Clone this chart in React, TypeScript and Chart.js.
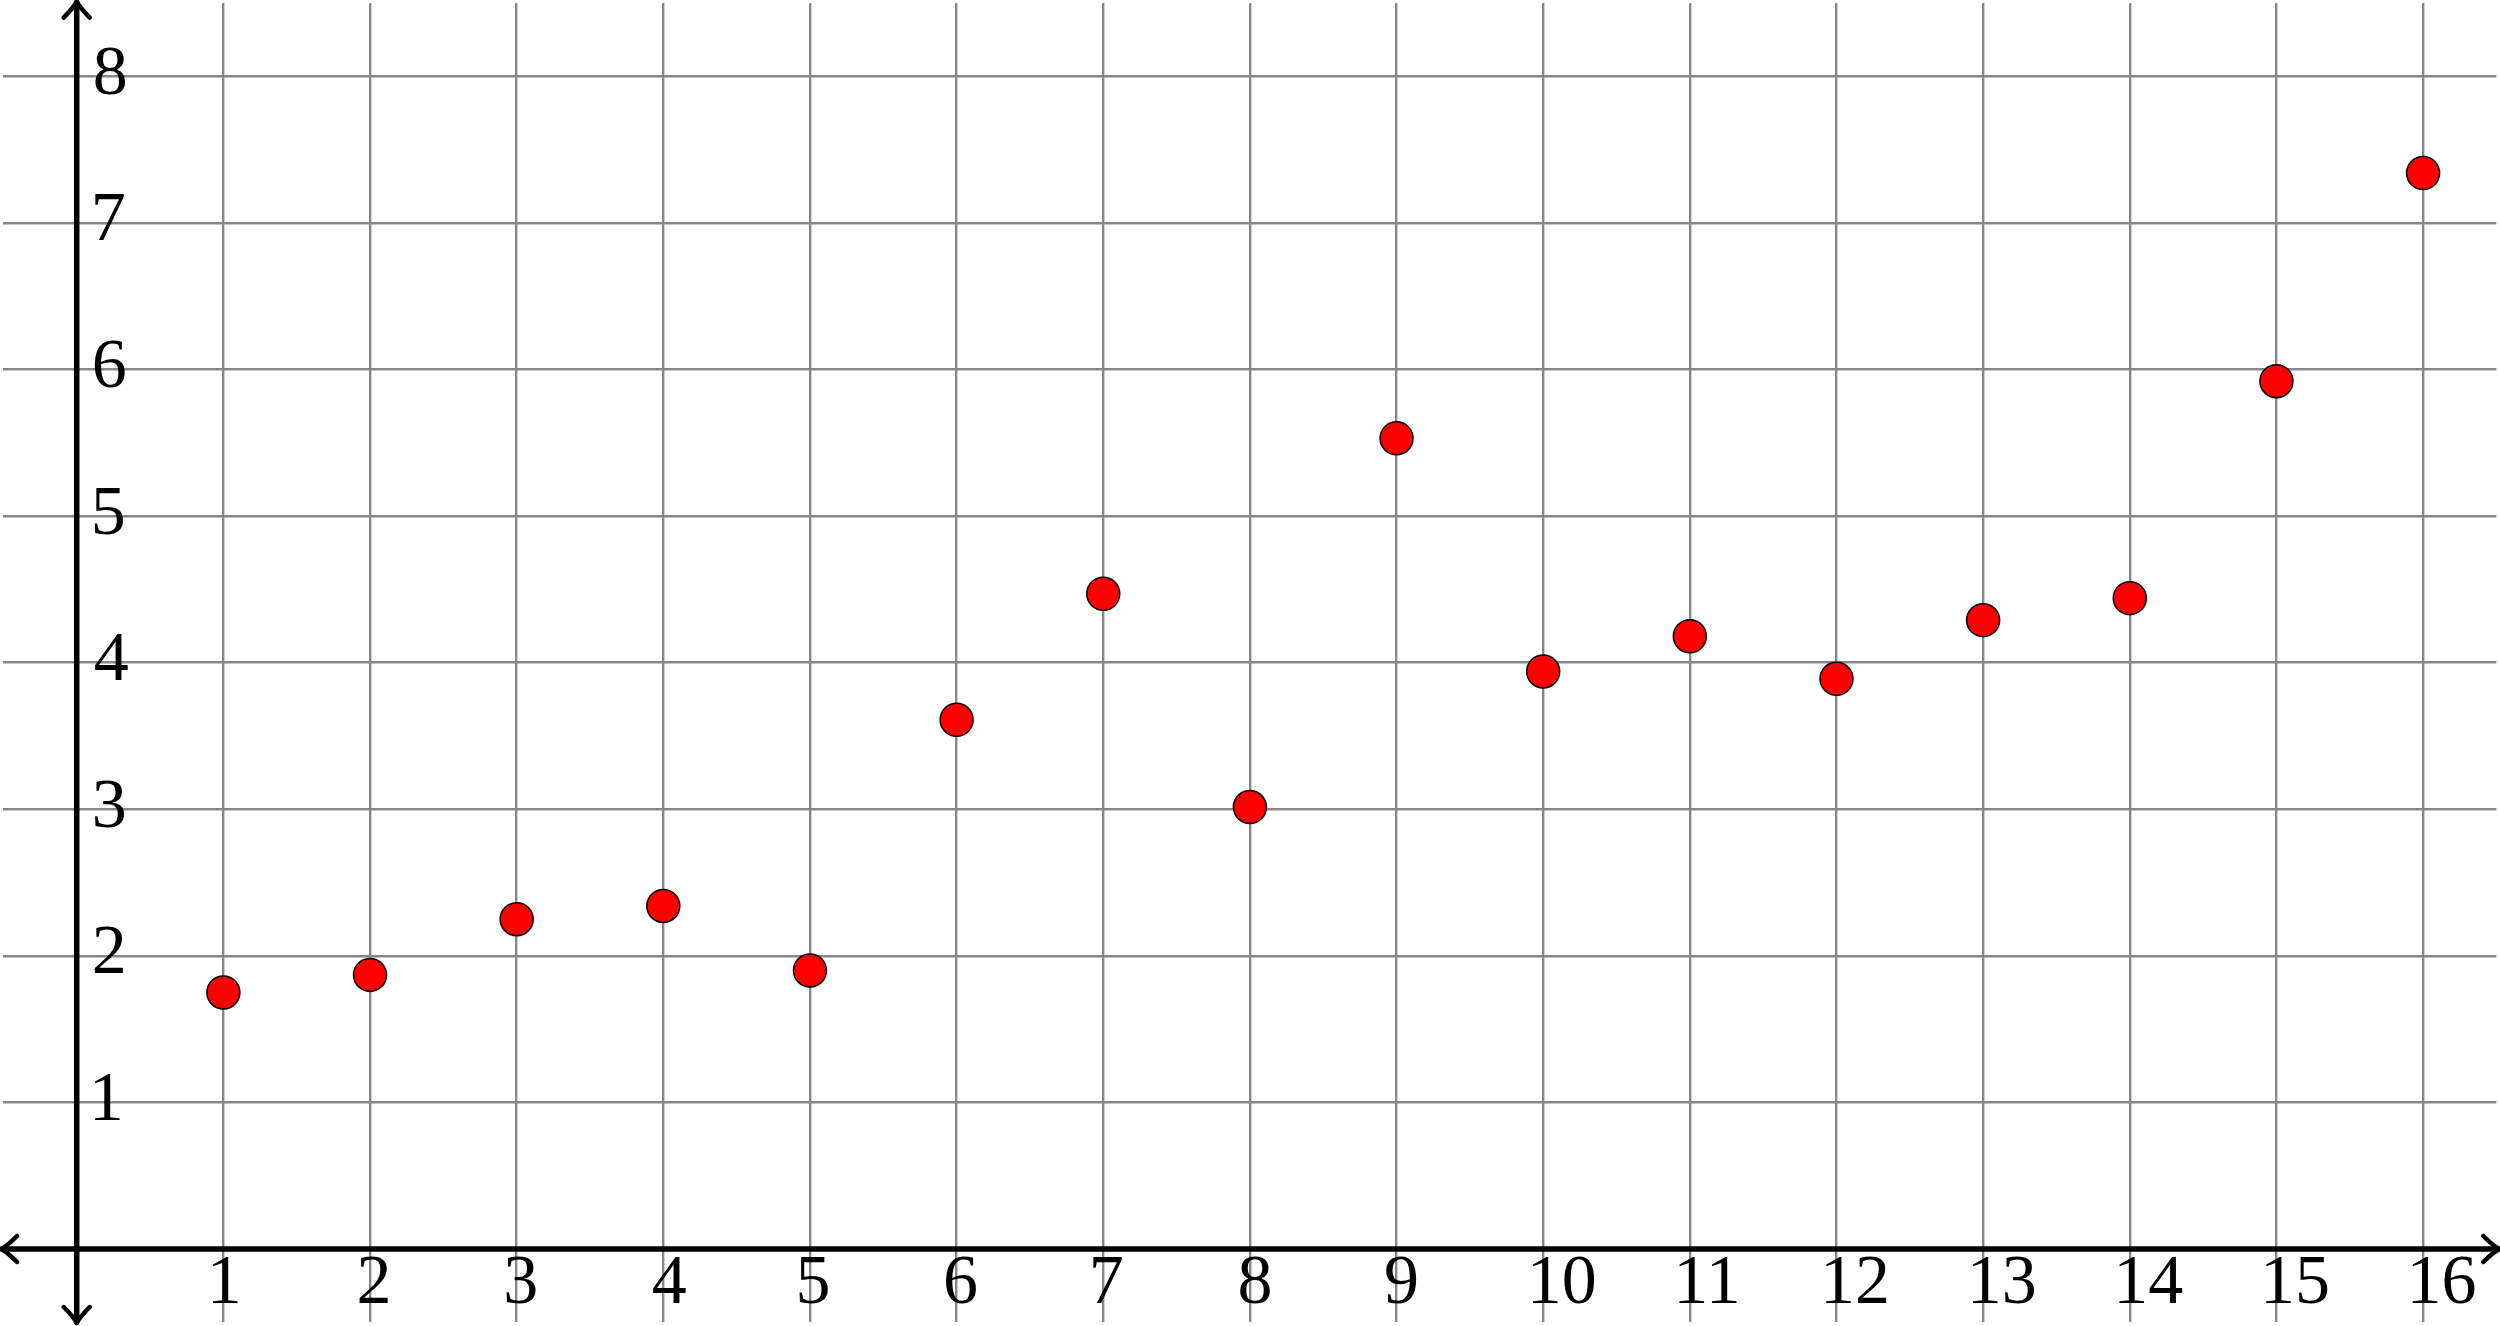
import React, { useEffect, useRef } from 'react';
import { Chart, registerables } from 'chart.js';

Chart.register(...registerables);

// ---- data ----
const xValues = [1, 2, 3, 4, 5, 6, 7, 8, 9, 10, 11, 12, 13, 14, 15, 16];
const yValues = [1.75, 1.87, 2.25, 2.34, 1.9, 3.61, 4.47, 3.015, 5.53, 3.94, 4.18, 3.89, 4.29, 4.44, 5.92, 7.34];

const xTickValues = [1, 2, 3, 4, 5, 6, 7, 8, 9, 10, 11, 12, 13, 14, 15, 16];
const xTickLabels = ['1', '2', '3', '4', '5', '6', '7', '8', '9', '10', '11', '12', '13', '14', '15', '16'];
const yTickValues = [1, 2, 3, 4, 5, 6, 7, 8];
const yTickLabels = ['1', '2', '3', '4', '5', '6', '7', '8'];

const X_MIN = -0.5;
const X_MAX = 16.5;
const Y_MIN = -0.5;
const Y_MAX = 8.5;

const FONT = '70px "Liberation Serif", "DejaVu Serif", serif';

function drawArrowHead(ctx: CanvasRenderingContext2D, tx: number, ty: number, dx: number, dy: number) {
  const px = -dy;
  const py = dx;
  const back = 16;
  const half = 13;
  ctx.beginPath();
  for (const s of [1, -1]) {
    const ex = tx - dx * back + px * half * s;
    const ey = ty - dy * back + py * half * s;
    const cx = tx - dx * 6 + px * 3 * s;
    const cy = ty - dy * 6 + py * 3 * s;
    ctx.moveTo(ex, ey);
    ctx.quadraticCurveTo(cx, cy, tx, ty);
  }
  ctx.stroke();
}

const axesPlugin = {
  id: 'texAxes',
  beforeDatasetsDraw(chart: any) {
    const ctx: CanvasRenderingContext2D = chart.ctx;
    const xs = chart.scales.x;
    const ys = chart.scales.y;
    const x0 = xs.getPixelForValue(0);
    const y0 = ys.getPixelForValue(0);
    const left = xs.getPixelForValue(-0.516);
    const right = xs.getPixelForValue(16.52);
    const top = ys.getPixelForValue(8.51);
    const bottom = ys.getPixelForValue(-0.505);

    ctx.save();
    ctx.strokeStyle = '#000';
    ctx.lineWidth = 5.5;
    ctx.lineCap = 'round';
    ctx.lineJoin = 'round';

    ctx.beginPath();
    ctx.moveTo(left + 1, y0);
    ctx.lineTo(right - 1, y0);
    ctx.stroke();
    ctx.beginPath();
    ctx.moveTo(x0, bottom - 1);
    ctx.lineTo(x0, top + 1);
    ctx.stroke();

    ctx.lineWidth = 4.5;
    drawArrowHead(ctx, right, y0, 1, 0);
    drawArrowHead(ctx, left, y0, -1, 0);
    drawArrowHead(ctx, x0, top, 0, -1);
    drawArrowHead(ctx, x0, bottom, 0, 1);

    ctx.fillStyle = '#000';
    ctx.font = FONT;
    ctx.textAlign = 'left';
    ctx.textBaseline = 'alphabetic';
    xTickValues.forEach((v, i) => {
      const label = xTickLabels[i];
      const m = ctx.measureText(label);
      const px = xs.getPixelForValue(v);
      ctx.fillText(label, px - 10.5 + m.actualBoundingBoxLeft, y0 + 54);
    });
    yTickValues.forEach((v, i) => {
      const label = yTickLabels[i];
      const m = ctx.measureText(label);
      const py = ys.getPixelForValue(v);
      ctx.fillText(label, x0 + 18 + m.actualBoundingBoxLeft, py + 17.5);
    });
    ctx.restore();
  },
};

export default function App() {
  const canvasRef = useRef<HTMLCanvasElement | null>(null);

  useEffect(() => {
    document.body.style.margin = '0';
    document.body.style.background = '#fff';
    const canvas = canvasRef.current;
    if (!canvas) return;
    const chart = new Chart(canvas, {
      type: 'scatter',
      data: {
        datasets: [
          {
            data: xValues.map((x, i) => ({ x, y: yValues[i] })),
            backgroundColor: '#ff0000',
            borderColor: '#000000',
            borderWidth: 1.5,
            pointRadius: 16.5,
            pointHoverRadius: 16.5,
            showLine: false,
          },
        ],
      },
      options: {
        animation: false,
        responsive: false,
        devicePixelRatio: 1,
        layout: { autoPadding: false, padding: { left: 3.4, right: 3.6, top: 3, bottom: 3.7 } },
        plugins: { legend: { display: false }, tooltip: { enabled: false } },
        events: [],
        scales: {
          x: {
            type: 'linear',
            min: X_MIN,
            max: X_MAX,
            afterBuildTicks: (scale: any) => {
              scale.ticks = xTickValues.map((v) => ({ value: v }));
            },
            ticks: { display: false },
            border: { display: false },
            grid: { color: '#878787', lineWidth: 2.4, drawTicks: false },
          },
          y: {
            type: 'linear',
            min: Y_MIN,
            max: Y_MAX,
            afterBuildTicks: (scale: any) => {
              scale.ticks = yTickValues.map((v) => ({ value: v }));
            },
            ticks: { display: false },
            border: { display: false },
            grid: { color: '#878787', lineWidth: 2.4, drawTicks: false },
          },
        },
      },
      plugins: [axesPlugin],
    });
    return () => chart.destroy();
  }, []);

  return (
    <div style={{ width: 2500, height: 1326, background: '#fff' }}>
      <canvas ref={canvasRef} width={2500} height={1326} style={{ display: 'block' }} />
    </div>
  );
}
